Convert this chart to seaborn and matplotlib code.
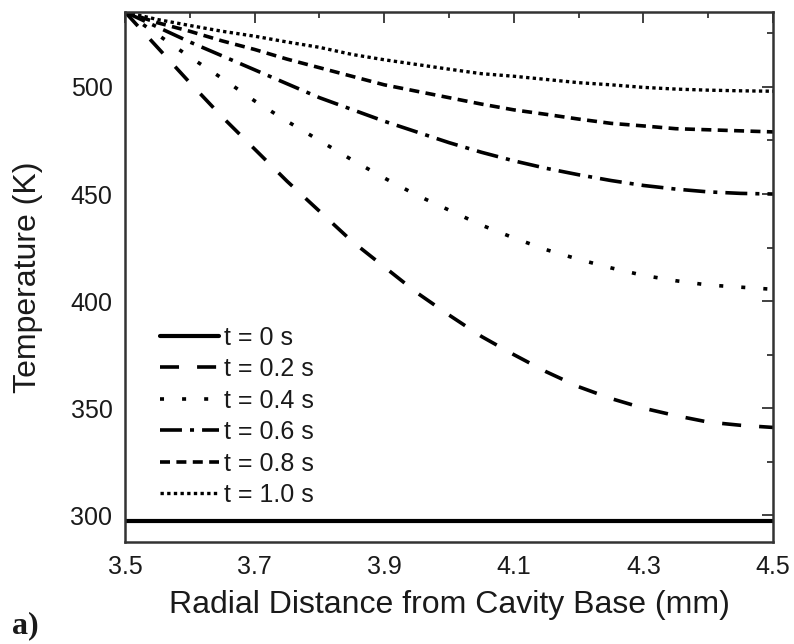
import numpy as np
import pandas as pd
import matplotlib
matplotlib.use("Agg")
import matplotlib.pyplot as plt
from matplotlib.ticker import MultipleLocator, FixedLocator
import seaborn as sns

# ---------------- data ----------------
radial_mm = [3.50, 3.55, 3.60, 3.65, 3.70, 3.75, 3.80, 3.85, 3.90, 3.95, 4.00,
             4.05, 4.10, 4.15, 4.20, 4.25, 4.30, 4.35, 4.40, 4.45, 4.50]

temp_t00 = [297.5] * 21
temp_t02 = [535, 518.5, 502, 486, 471, 456, 442, 428, 416, 404, 393.5,
            383.5, 375, 367, 360, 354.5, 350, 346.5, 343.5, 342, 341]
temp_t04 = [535, 524.5, 514, 504, 493.5, 484, 475, 466, 457.5, 449.5, 442.5,
            435.5, 429.5, 424, 419.5, 415.5, 412, 409.5, 407.5, 406.5, 405.5]
temp_t06 = [535, 528, 521, 514.5, 508, 501.5, 495, 489.5, 484, 479, 474,
            469.5, 465.5, 462, 459, 456.3, 454, 452.3, 451, 450.3, 450]
temp_t08 = [535, 530, 526, 521.5, 517.5, 513, 509, 505, 501, 498, 495,
            492, 489.3, 487.2, 485, 483, 481.8, 480.5, 480, 479.5, 479]
temp_t10 = [535, 531.5, 528.7, 526, 523.7, 521, 518.5, 515.2, 512.7, 510.5, 508.3,
            506.2, 505, 503.5, 502, 501, 499.8, 499, 498.5, 498.2, 498]

series_labels = ["t = 0 s", "t = 0.2 s", "t = 0.4 s", "t = 0.6 s", "t = 0.8 s", "t = 1.0 s"]
series_values = [temp_t00, temp_t02, temp_t04, temp_t06, temp_t08, temp_t10]

x_tick_labels = ["3.5", "3.7", "3.9", "4.1", "4.3", "4.5"]
y_tick_labels = ["300", "350", "400", "450", "500"]

x_label = "Radial Distance from Cavity Base (mm)"
y_label = "Temperature (K)"
panel_label = "a)"

# ---------------- style ----------------
sns.set_style("white")
plt.rcParams["font.family"] = ["Liberation Sans", "DejaVu Sans"]
plt.rcParams["lines.scale_dashes"] = False
plt.rcParams["text.color"] = "#1a1a1a"
plt.rcParams["axes.labelcolor"] = "#1a1a1a"
plt.rcParams["xtick.labelcolor"] = "#1a1a1a"
plt.rcParams["ytick.labelcolor"] = "#1a1a1a"

line_styles = [
    "-",
    (0, (13.7, 13.0)),
    (0, (2.9, 13.0)),
    (0, (15.8, 5.8, 2.9, 5.8)),
    (0, (7.2, 4.6)),
    (0, (2.4, 2.4)),
]
line_widths = [3.0, 2.6, 2.6, 2.6, 2.6, 2.4]

fig = plt.figure(figsize=(7.94, 6.44), dpi=100)
ax = fig.add_axes([125 / 794, 102 / 644, 648 / 794, 530 / 644])

for lab, vals, ls, lw in zip(series_labels, series_values, line_styles, line_widths):
    df = pd.DataFrame({"r": radial_mm, "T": vals})
    sns.lineplot(data=df, x="r", y="T", ax=ax, color="black", linewidth=lw,
                 linestyle=ls, label=lab, legend=False)

ax.set_xlim(3.5, 4.5)
ax.set_ylim(287.5, 535)

ax.xaxis.set_major_locator(FixedLocator([float(v) for v in x_tick_labels]))
ax.set_xticklabels(x_tick_labels)
ax.xaxis.set_minor_locator(MultipleLocator(0.1))
ax.yaxis.set_major_locator(FixedLocator([float(v) for v in y_tick_labels]))
ax.set_yticklabels(y_tick_labels)
ax.yaxis.set_minor_locator(MultipleLocator(25))

ax.tick_params(which="both", direction="in", top=True, right=True,
               color="#333333", width=1.3)
ax.tick_params(which="major", length=8, labelsize=18, pad=9)
ax.tick_params(which="minor", length=4)

for sp in ax.spines.values():
    sp.set_color("#333333")
    sp.set_linewidth(1.8)

ax.set_xlabel(x_label, fontsize=23)
ax.set_ylabel(y_label, fontsize=23)
ax.xaxis.set_label_coords(0.5, -0.09)
ax.yaxis.set_label_coords(-0.127, 0.5)

leg = ax.legend(loc="lower left", bbox_to_anchor=(0.054, 0.066), frameon=False,
                fontsize=18, handlelength=2.35, handletextpad=0.2,
                labelspacing=0.3, borderpad=0, borderaxespad=0)

fig.text(12 / 794, 11 / 644, panel_label, fontsize=23, fontweight="bold",
         family="Liberation Serif", ha="left", va="baseline")

fig.savefig("out.png", dpi=100, facecolor="white")
